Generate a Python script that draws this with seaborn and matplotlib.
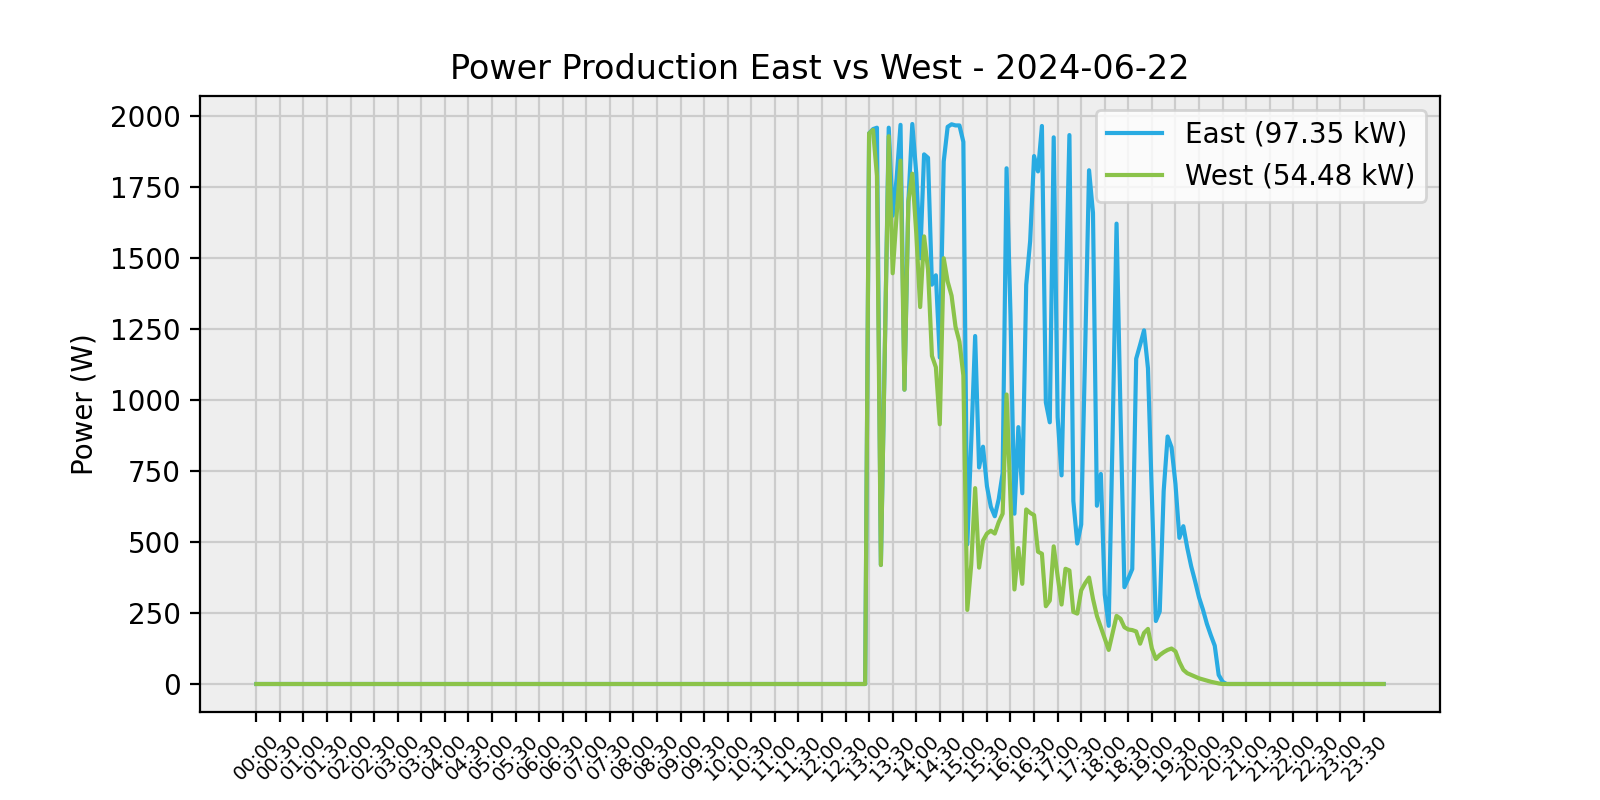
import numpy as np
import pandas as pd
import matplotlib
matplotlib.use("Agg")
import matplotlib.pyplot as plt
import seaborn as sns

# 5-minute samples over the day
times = [f"{h:02d}:{m:02d}" for h in range(24) for m in range(0, 60, 5)]

# daytime readings (W) starting at 12:55; all other samples are 0
day_start = "12:55"
east_day = [0, 1940, 1955, 1960, 420, 1175, 1960, 1650, 1780, 1970,
            1037, 1700, 1973, 1800, 1500, 1866, 1854, 1407, 1440, 1150,
            1841, 1963, 1972, 1968, 1968, 1910, 492, 850, 1226, 763,
            836, 697, 624, 591, 651, 743, 1817, 1300, 600, 905,
            672, 1406, 1560, 1860, 1806, 1966, 992, 922, 1926, 940,
            735, 1340, 1934, 645, 495, 562, 1170, 1810, 1660, 628,
            740, 315, 205, 880, 1622, 960, 341, 372, 405, 1146,
            1195, 1246, 1112, 660, 222, 256, 680, 872, 834, 705,
            515, 556, 480, 415, 362, 305, 262, 212, 172, 135,
            32, 8, 0]
west_day = [0, 1940, 1952, 1790, 419, 1175, 1930, 1447, 1650, 1844,
            1037, 1700, 1798, 1590, 1328, 1577, 1460, 1156, 1116, 915,
            1500, 1418, 1368, 1259, 1206, 1087, 261, 420, 690, 410,
            505, 530, 540, 530, 570, 600, 1020, 650, 333, 479,
            353, 615, 603, 595, 466, 459, 274, 294, 485, 380,
            280, 406, 400, 254, 248, 330, 355, 375, 300, 240,
            200, 160, 120, 180, 240, 230, 200, 192, 190, 185,
            142, 180, 194, 125, 88, 102, 112, 120, 125, 115,
            78, 50, 38, 32, 26, 20, 16, 12, 8, 5,
            2, 0, 0]
east_total_kw = 97.35
west_total_kw = 54.48
title = "Power Production East vs West - 2024-06-22"

start = times.index(day_start)
east = np.zeros(len(times))
west = np.zeros(len(times))
east[start:start + len(east_day)] = east_day
west[start:start + len(west_day)] = west_day

df = pd.DataFrame({"idx": np.arange(len(times)), "time": times,
                   "East": east, "West": west})

fig, ax = plt.subplots(figsize=(8, 4), dpi=200)
ax.set_facecolor("#eeeeee")
ax.grid(True, color="#cccccc", linewidth=0.8)
ax.set_axisbelow(True)

sns.lineplot(data=df, x="idx", y="East", ax=ax, color="#29abe2",
             linewidth=1.5, label=f"East ({east_total_kw:.2f} kW)")
sns.lineplot(data=df, x="idx", y="West", ax=ax, color="#8bc34a",
             linewidth=1.5, label=f"West ({west_total_kw:.2f} kW)")

tick_pos = df["idx"].values[::6]
ax.set_xticks(tick_pos)
ax.set_xticklabels(df["time"].values[::6], rotation=45, fontsize=7)
ax.set_xlabel("")
ax.set_ylabel("Power (W)")
ax.set_title(title)
ax.legend(loc="upper right")

fig.savefig("out.png", dpi=200)
